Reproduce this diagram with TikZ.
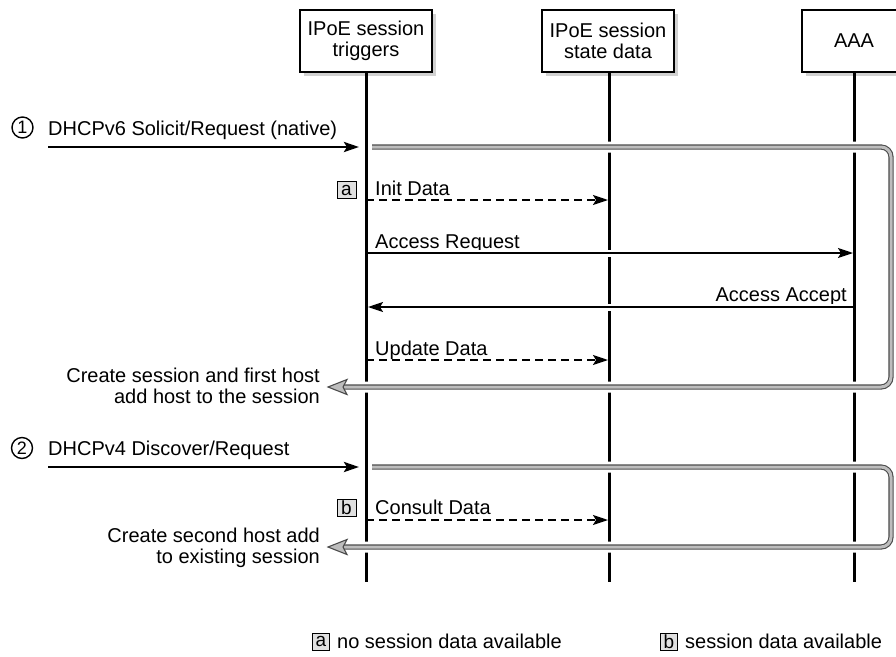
\documentclass[tikz,border=0pt]{standalone}
\usepackage{fontspec}
\setmainfont{Liberation Sans}
\usetikzlibrary{arrows.meta,shadows}
\definecolor{shadowgray}{gray}{0.82}
\definecolor{brout}{gray}{0.3}
\definecolor{brin}{gray}{0.74}
\definecolor{tagfill}{gray}{0.88}
\tikzset{
  head/.style={draw=black, line width=1.6pt, fill=white, minimum width=132, minimum height=62,
    align=center, inner sep=0pt, font=\fontsize{20}{21.5}\selectfont,
    drop shadow={shadow xshift=4pt, shadow yshift=-4pt, fill=shadowgray, opacity=1}},
  life/.style={line width=3pt, black},
  lbl/.style={inner sep=0pt, font=\fontsize{20}{21}\selectfont},
  tag/.style={draw=black, line width=0.8pt, fill=tagfill, minimum width=17, minimum height=17,
    inner sep=0pt, font=\fontsize{19}{19}\selectfont},
  numc/.style={circle, draw=black, line width=1.4pt, minimum size=21, inner sep=0pt,
    font=\fontsize{18}{18}\selectfont},
  gapw/.style={preaction={draw=white, line width=7pt, shorten <=8pt, shorten >=8pt, -}},
  msgin/.style={line width=2.8pt, -{Stealth[length=15pt, width=10pt, inset=3pt]}},
  msg/.style={gapw, line width=1.8pt, -{Stealth[length=15pt, width=10pt, inset=3pt]}},
  msgd/.style={line width=1.8pt, dash pattern=on 8pt off 5pt, -{Stealth[length=15pt, width=10pt, inset=3pt]}},
  bracket/.style={preaction={draw=white, line width=11pt}, draw=brout, line width=1.1pt,
    double=brin, double distance=3pt, rounded corners=10pt},
  brhead/.style={fill=brin, draw=brout, line width=1.1pt, line join=miter},
}
\begin{document}
\begin{tikzpicture}[x=1pt,y=-1pt]
\useasboundingbox (0,0) rectangle (896,656);

% heads
\node[head] (trig) at (366,41) {IPoE session\\triggers};
\node[head] (state) at (608,41) {IPoE session\\state data};
\node[head, minimum width=104] (aaa) at (854,41) {AAA};

% lifeline ends
\coordinate (trigE) at (366,582);
\coordinate (stateE) at (609,582);
\coordinate (aaaE) at (854,582);
\draw[life] (trig.south) -- (trigE);
\draw[life] (state.south -| stateE) -- (stateE);
\draw[life] (aaa.south) -- (aaaE);

% ---------- step 1
\node[numc] (n1) at (22.5,127.5) {1};
\node[lbl, anchor=base west] (l1) at (48,135) {DHCPv6 Solicit/Request (native)};
\coordinate (m1a) at (48,147);
\coordinate (m1b) at (359,147);
\draw[msgin] (m1a) -- (m1b);

% bracket 1
\coordinate (b1a) at (372,147);
\coordinate (b1b) at (891,147);
\coordinate (b1c) at (891,387);
\coordinate (b1d) at (342,387);
\draw[bracket] (b1a) -- (b1b) -- (b1c) -- (b1d);
\coordinate (h1) at (328,387);
\draw[brhead] (h1) -- ++(19,-7.5) -- ++(-4,7.5) -- ++(4,7.5) -- cycle;
\node[lbl, anchor=east, align=right] (c1) at (320,386) {Create session and first host\\add host to the session};

% init data
\node[tag, minimum width=19] (ta) at (346.5,190) {a};
\node[lbl, anchor=base west] (l2) at (375,195) {Init Data};
\coordinate (m2a) at (366,200);
\coordinate (m2b) at (608,200);
\draw[msgd] (m2a) -- (m2b);

% access request
\node[lbl, anchor=base west] (l3) at (375,248) {Access Request};
\coordinate (m3a) at (367,253);
\coordinate (m3b) at (853,253);
\draw[msg] (m3a) -- (m3b);

% access accept
\node[lbl, anchor=base east] (l4) at (847,301) {Access Accept};
\coordinate (m4a) at (853,307);
\coordinate (m4b) at (368,307);
\draw[msg] (m4a) -- (m4b);

% update data
\node[lbl, anchor=base west] (l5) at (375,355) {Update Data};
\coordinate (m5a) at (366,360);
\coordinate (m5b) at (608,360);
\draw[msgd] (m5a) -- (m5b);

% ---------- step 2
\node[numc] (n2) at (22,448) {2};
\node[lbl, anchor=base west] (l6) at (48,455) {DHCPv4 Discover/Request};
\coordinate (m6a) at (48,467);
\coordinate (m6b) at (359,467);
\draw[msgin] (m6a) -- (m6b);

% bracket 2
\coordinate (b2a) at (372,467);
\coordinate (b2b) at (891,467);
\coordinate (b2c) at (891,547);
\coordinate (b2d) at (342,547);
\draw[bracket] (b2a) -- (b2b) -- (b2c) -- (b2d);
\coordinate (h2) at (328,547);
\draw[brhead] (h2) -- ++(19,-7.5) -- ++(-4,7.5) -- ++(4,7.5) -- cycle;
\node[lbl, anchor=east, align=right] (c2) at (320,548) {Create second host add\\to existing session};

% consult data
\node[tag, minimum width=19] (tb) at (346.5,507.5) {b};
\node[lbl, anchor=base west] (l7) at (375,514) {Consult Data};
\coordinate (m7a) at (366,520);
\coordinate (m7b) at (608,520);
\draw[msgd] (m7a) -- (m7b);

% legend
\node[tag] (la) at (321,641.5) {a};
\node[lbl, anchor=base west] (lat) at (337,648.5) {no session data available};
\node[tag] (lb) at (669,641.5) {b};
\node[lbl, anchor=base west] (lbt) at (685,648.5) {session data available};
\end{tikzpicture}
\end{document}
